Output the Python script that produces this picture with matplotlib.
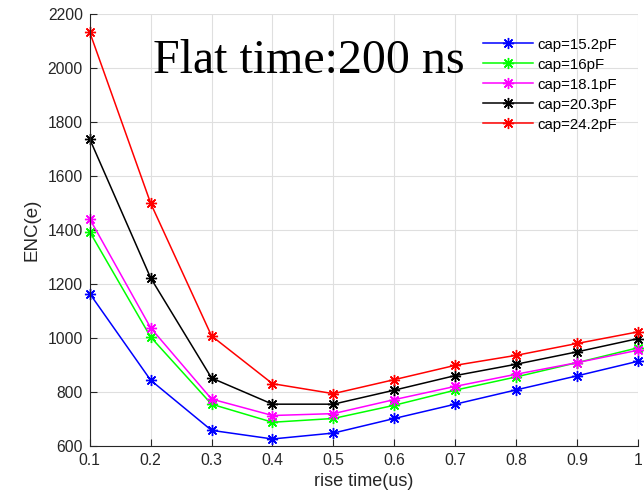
import numpy as np
import matplotlib.pyplot as plt

# rise time (us)
rise = [0.1, 0.2, 0.3, 0.4, 0.5, 0.6, 0.7, 0.8, 0.9, 1.0]

# ENC(e) for each detector capacitance
enc_152 = [1165, 844, 658, 626, 648, 702, 755, 808, 860, 914]
enc_16 = [1394, 1004, 755, 688, 702, 751, 807, 856, 909, 964]
enc_181 = [1442, 1038, 774, 713, 720, 772, 821, 866, 909, 955]
enc_203 = [1738, 1223, 852, 755, 755, 807, 861, 903, 949, 998]
enc_242 = [2134, 1500, 1008, 831, 794, 846, 899, 936, 980, 1023]

labels = ['cap=15.2pF', 'cap=16pF', 'cap=18.1pF', 'cap=20.3pF', 'cap=24.2pF']
colors = ['#0000ff', '#00ff00', '#ff00ff', '#000000', '#ff0000']

plt.rcParams['font.family'] = ['Liberation Sans', 'DejaVu Sans']
axcol = '#262626'

fig = plt.figure(figsize=(6.44, 5.0), dpi=100)
ax = fig.add_axes([0.1393, 0.108, 0.8514, 0.8634])

series = [enc_152, enc_16, enc_181, enc_203, enc_242]
for ys, lab, c in zip(series, labels, colors):
    ax.plot(rise, ys, color=c, lw=1.1, marker=(8, 2, 0), ms=8, mew=1.0,
            label=lab, clip_on=False)

ax.set_xlim(0.1, 1.0)
ax.set_ylim(600, 2200)
ax.set_xticks(rise)
ax.set_xticklabels(['0.1', '0.2', '0.3', '0.4', '0.5', '0.6', '0.7', '0.8', '0.9', '1'])
ax.set_yticks(np.arange(600, 2201, 200))
ax.grid(True, color='#dfdfdf', lw=0.8)
ax.set_axisbelow(True)

for s in ['top', 'right']:
    ax.spines[s].set_visible(False)
for s in ['left', 'bottom']:
    ax.spines[s].set_color(axcol)
    ax.spines[s].set_linewidth(0.8)
ax.tick_params(direction='in', length=5, width=0.8, color=axcol,
               labelcolor=axcol, labelsize=11.3, pad=5)

ax.set_xlabel('rise time(us)', fontsize=13, color=axcol, labelpad=4)
ax.set_ylabel('ENC(e)', fontsize=13.5, color=axcol, labelpad=5)

ax.text(0.204, 1982, 'Flat time:200 ns', family='Liberation Serif',
        fontsize=34.5, color='#000000', va='baseline', ha='left')

ax.legend(loc='upper left', bbox_to_anchor=(0.750, 0.925),
          bbox_transform=fig.transFigure, frameon=False, fontsize=10.8,
          handlelength=3.3, handletextpad=0.3, labelspacing=0.40,
          borderaxespad=0, borderpad=0)

fig.savefig('out.png', dpi=100)
